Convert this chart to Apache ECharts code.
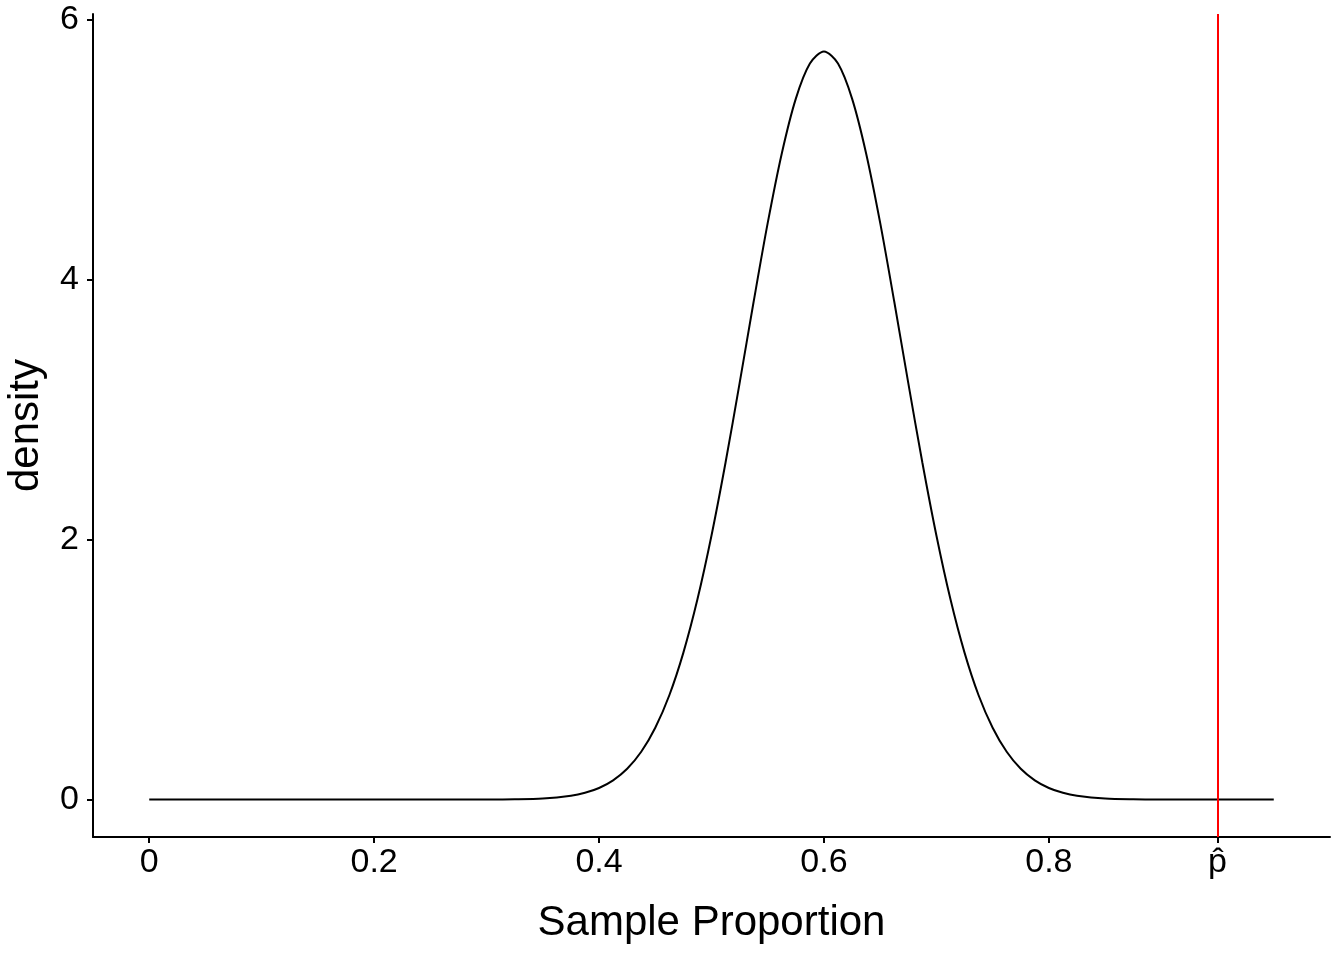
<!DOCTYPE html>
<html>
<head>
<meta charset="utf-8">
<script src="https://cdn.jsdelivr.net/npm/echarts@6/dist/echarts.min.js"></script>
<style>
  html, body { margin: 0; padding: 0; background: #fff; }
  #main { width: 1344px; height: 960px; }
</style>
</head>
<body>
<div id="main"></div>
<script>
var myChart = echarts.init(document.getElementById('main'));

// density curve
var xs = [0, 0.1, 0.2, 0.3, 0.325, 0.35, 0.375, 0.3875, 0.4, 0.4125, 0.425, 0.4375, 0.45, 0.4625,
  0.475, 0.4875, 0.5, 0.5125, 0.525, 0.5375, 0.55, 0.5625, 0.575, 0.5875, 0.6,
  0.6125, 0.625, 0.6375, 0.65, 0.6625, 0.675, 0.6875, 0.7, 0.7125, 0.725, 0.7375, 0.75,
  0.7625, 0.775, 0.7875, 0.8, 0.8125, 0.825, 0.85, 0.875, 0.9, 1.0];
var density = [0, 0, 0, 0.0005, 0.0022, 0.0086, 0.030, 0.052, 0.089, 0.148, 0.237, 0.368, 0.553, 0.803,
  1.131, 1.541, 2.032, 2.594, 3.205, 3.833, 4.438, 4.973, 5.395, 5.665, 5.758,
  5.665, 5.395, 4.973, 4.438, 3.833, 3.205, 2.594, 2.032, 1.541, 1.131, 0.803, 0.553,
  0.368, 0.237, 0.148, 0.089, 0.052, 0.030, 0.0086, 0.0022, 0.0005, 0];
var xTicks = [0, 0.2, 0.4, 0.6, 0.8, 0.95];
var xTickLabels = ['0', '0.2', '0.4', '0.6', '0.8', 'p\u0302'];
var yTicks = [0, 2, 4, 6];
var pHat = 0.95;

var font = '"Liberation Sans", Arial, Helvetica, sans-serif';

var option = {
  animation: false,
  grid: {
    left: 93,
    right: 14,
    top: 14,
    bottom: 123,
    outerBoundsMode: 'none'
  },
  xAxis: {
    type: 'value',
    min: -0.05,
    max: 1.05,
    name: 'Sample Proportion',
    nameLocation: 'middle',
    nameGap: 65,
    nameTextStyle: { fontFamily: font, fontSize: 42, color: '#000' },
    axisLine: { onZero: false, lineStyle: { color: '#000', width: 2 } },
    axisTick: { show: true, length: 6, customValues: xTicks, lineStyle: { color: '#000', width: 2 } },
    axisLabel: {
      customValues: xTicks,
      margin: 9,
      fontFamily: font,
      fontSize: 34,
      color: '#000',
      formatter: function (v) {
        var i = xTicks.indexOf(v);
        return i >= 0 ? xTickLabels[i] : '';
      }
    },
    splitLine: { show: false }
  },
  yAxis: {
    type: 'value',
    min: -0.288,
    max: 6.046,
    name: 'density',
    nameLocation: 'middle',
    nameGap: 46,
    nameTextStyle: { fontFamily: font, fontSize: 42, color: '#000' },
    axisLine: { show: true, onZero: false, lineStyle: { color: '#000', width: 2 } },
    axisTick: { show: true, length: 6, customValues: yTicks, lineStyle: { color: '#000', width: 2 } },
    axisLabel: {
      customValues: yTicks,
      margin: 14,
      fontFamily: font,
      fontSize: 34,
      color: '#000'
    },
    splitLine: { show: false }
  },
  series: [
    {
      type: 'line',
      data: xs.map(function (x, i) { return [x, density[i]]; }),
      smooth: 0.3,
      showSymbol: false,
      lineStyle: { color: '#000', width: 2 },
      markLine: {
        silent: true,
        symbol: ['none', 'none'],
        label: { show: false },
        lineStyle: { color: '#ff0000', width: 2, type: 'solid' },
        data: [{ xAxis: pHat }]
      }
    }
  ]
};

myChart.setOption(option);
</script>
</body>
</html>
